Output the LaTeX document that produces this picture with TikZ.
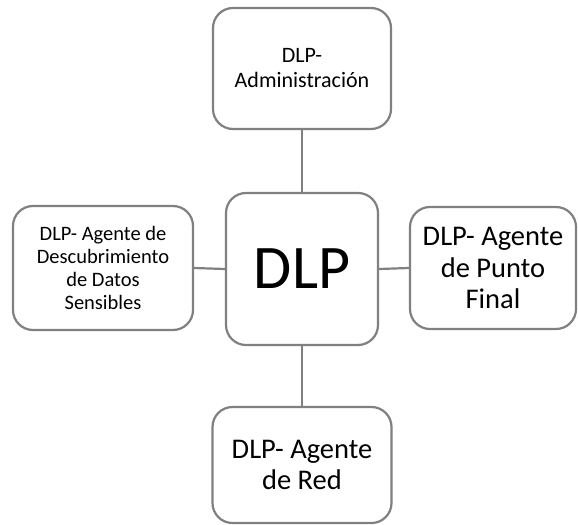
\documentclass[tikz,border=0pt]{standalone}
\usepackage{fontspec}
\setmainfont{Carlito}
\begin{document}
\begin{tikzpicture}[x=1bp,y=-1bp,
  box/.style={draw=black!50, line width=2.2bp, rounded corners=20bp, fill=white, align=center, inner sep=0pt},
  conn/.style={draw=black!50, line width=2.2bp}]
\useasboundingbox (0,0) rectangle (578,525);
\node[box, minimum width=178bp, minimum height=121bp, font=\fontsize{22bp}{25bp}\selectfont] (adm) at (302,68.5) {DLP-\\Administración};
\node[box, minimum width=152bp, minimum height=152bp, font=\fontsize{62bp}{70bp}\selectfont] (dlp) at (302,269) {DLP};
\node[box, minimum width=180bp, minimum height=124bp, font=\fontsize{20.5bp}{22.8bp}\selectfont] (des) at (103,268) {DLP- Agente de\\Descubrimiento\\de Datos\\Sensibles};
\node[box, minimum width=166bp, minimum height=122bp, font=\fontsize{28.5bp}{31.3bp}\selectfont] (fin) at (493,268) {DLP- Agente\\de Punto\\Final};
\node[box, minimum width=179bp, minimum height=116bp, font=\fontsize{28.5bp}{31.3bp}\selectfont] (red) at (302,465) {DLP- Agente\\de Red};
\draw[conn] (adm.south) -- (dlp.north);
\draw[conn] (dlp.south) -- (red.north);
\draw[conn] (des.east) -- (dlp.west);
\draw[conn] (dlp.east) -- (fin.west);
\end{tikzpicture}
\end{document}
